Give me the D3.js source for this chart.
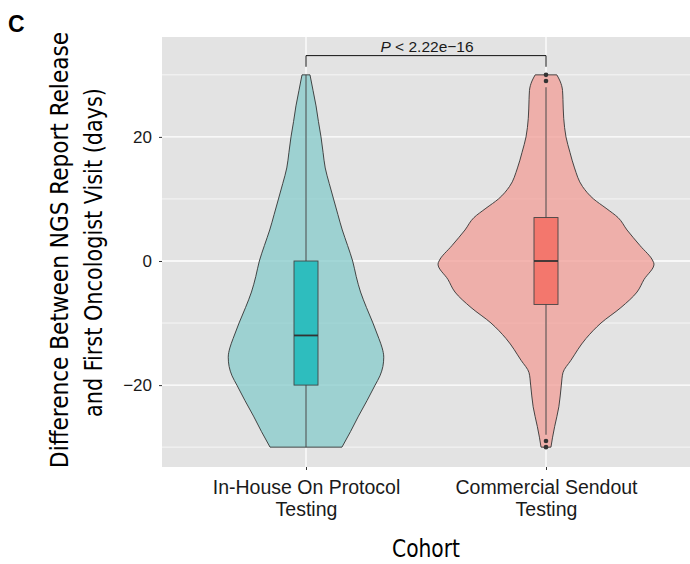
<!DOCTYPE html>
<html>
<head>
<meta charset="utf-8">
<script src="https://cdn.jsdelivr.net/npm/d3@7"></script>
<style>
  body { margin: 0; background: #fff; }
  svg { display: block; }
  .tick-txt { font-family: "Liberation Sans", Arial, sans-serif; fill: #1a1a1a; }
  .narrow { font-family: "DejaVu Sans Condensed", "DejaVu Sans", sans-serif; font-stretch: condensed; fill: #000; }
</style>
</head>
<body>
<div id="chart"></div>
<script>
// categories and labels
var cohorts = ['In-House On Protocol\nTesting', 'Commercial Sendout\nTesting'];
var yTicks = [-20, 0, 20];
var yMinor = [-30, -10, 10, 30];

// violin outlines: value (days) and relative density
var densInHouse = [
  [30, 0.037], [27.5, 0.065], [25, 0.093], [22.5, 0.115], [20, 0.139], [17.5, 0.158], [15, 0.178],
  [12.5, 0.215], [10, 0.255], [7.5, 0.295], [5, 0.336], [2.5, 0.385], [0, 0.432], [-2.5, 0.465],
  [-5, 0.505], [-7.5, 0.56], [-10, 0.62], [-12.5, 0.675], [-14, 0.705], [-15.5, 0.72],
  [-17, 0.712], [-18.5, 0.685], [-20, 0.64], [-22.5, 0.565], [-25, 0.486], [-27.5, 0.412], [-30, 0.333]
];
var densSendout = [
  [30, 0.10], [29, 0.13], [27.5, 0.153], [26, 0.157], [23, 0.164], [20, 0.185], [17.5, 0.222],
  [15, 0.264], [12, 0.338], [10, 0.44], [8.5, 0.556], [7, 0.667], [5, 0.75], [2.5, 0.87],
  [0, 0.99], [-0.5, 1.0], [-3, 0.907], [-5, 0.843], [-7.5, 0.694], [-10, 0.509], [-12.5, 0.37],
  [-16, 0.231], [-18, 0.157], [-20, 0.142], [-23.5, 0.119], [-26.7, 0.08], [-28.5, 0.06], [-30, 0.046]
];

// box stats: lower whisker, q1, median, q3, upper whisker
var boxInHouse = [-30, -20, -12, 0, 30];
var boxSendout = [-28, -7, 0, 7, 28];
var outliersInHouse = [];
var outliersSendout = [30, 29, -29, -30];

var pLabel = 'P';
var pText = ' < 2.22e\u221216';
var bracketY = 33.1, bracketTip = 31.3;

var yTitle = ['Difference Between NGS Report Release', 'and First Oncologist Visit (days)'];
var xTitle = 'Cohort';

var W = 690, H = 564;
var panel = { left: 162, right: 690, top: 37, bottom: 467 };

var svg = d3.select('#chart').append('svg').attr('width', W).attr('height', H);

var x = d3.scalePoint().domain(cohorts).range([panel.left, panel.right]).padding(0.6);
var y = d3.scaleLinear().domain([-33.2, 36.1]).range([panel.bottom, panel.top]);
var step = x.step();
var wScale = d3.scaleLinear().domain([0, 1]).range([0, step * 0.45]);

// panel background + grid
svg.append('rect').attr('x', panel.left).attr('y', panel.top)
  .attr('width', panel.right - panel.left).attr('height', panel.bottom - panel.top)
  .attr('fill', '#e3e3e3');

svg.selectAll('.gminor').data(yMinor).enter().append('line')
  .attr('x1', panel.left).attr('x2', panel.right)
  .attr('y1', function (d) { return y(d); }).attr('y2', function (d) { return y(d); })
  .attr('stroke', '#fff').attr('stroke-width', 0.7);
svg.selectAll('.gmajor').data(yTicks).enter().append('line')
  .attr('x1', panel.left).attr('x2', panel.right)
  .attr('y1', function (d) { return y(d); }).attr('y2', function (d) { return y(d); })
  .attr('stroke', '#fff').attr('stroke-width', 1.3);
svg.selectAll('.gx').data(cohorts).enter().append('line')
  .attr('y1', panel.top).attr('y2', panel.bottom)
  .attr('x1', function (d) { return x(d); }).attr('x2', function (d) { return x(d); })
  .attr('stroke', '#fff').attr('stroke-width', 1.3);

// violins
var groups = [
  { cat: cohorts[0], dens: densInHouse, box: boxInHouse, out: outliersInHouse, vfill: '#86cbcb', bfill: '#2ebdbe' },
  { cat: cohorts[1], dens: densSendout, box: boxSendout, out: outliersSendout, vfill: '#f29e97', bfill: '#f3776d' }
];

groups.forEach(function (g) {
  var cx = x(g.cat);
  var area = d3.area()
    .y(function (d) { return y(d[0]); })
    .x0(function (d) { return cx - wScale(d[1]); })
    .x1(function (d) { return cx + wScale(d[1]); })
    .curve(d3.curveMonotoneY);
  svg.append('path').datum(g.dens).attr('d', area)
    .attr('fill', g.vfill).attr('fill-opacity', 0.75)
    .attr('stroke', '#333').attr('stroke-width', 0.9);

  var bw = step * 0.1;
  // whiskers
  svg.append('line').attr('x1', cx).attr('x2', cx)
    .attr('y1', y(g.box[0])).attr('y2', y(g.box[4]))
    .attr('stroke', '#444').attr('stroke-width', 1);
  svg.append('rect').attr('x', cx - bw / 2).attr('width', bw)
    .attr('y', y(g.box[3])).attr('height', y(g.box[1]) - y(g.box[3]))
    .attr('fill', g.bfill).attr('stroke', '#444').attr('stroke-width', 0.9);
  svg.append('line').attr('x1', cx - bw / 2).attr('x2', cx + bw / 2)
    .attr('y1', y(g.box[2])).attr('y2', y(g.box[2]))
    .attr('stroke', '#333').attr('stroke-width', 1.8);
  svg.selectAll(null).data(g.out).enter().append('circle')
    .attr('cx', cx).attr('cy', function (d) { return y(d); }).attr('r', 2.3)
    .attr('fill', '#333');
});

// significance bracket
var bx0 = x(cohorts[0]), bx1 = x(cohorts[1]);
svg.append('path')
  .attr('d', 'M' + bx0 + ',' + y(bracketTip) + 'V' + y(bracketY) + 'H' + bx1 + 'V' + y(bracketTip))
  .attr('fill', 'none').attr('stroke', '#111').attr('stroke-width', 1);
var pt = svg.append('text').attr('class', 'tick-txt')
  .attr('x', (bx0 + bx1) / 2 + 1).attr('y', y(bracketY) - 4)
  .attr('text-anchor', 'middle').style('font-size', '15.5px');
pt.append('tspan').style('font-style', 'italic').text(pLabel);
pt.append('tspan').text(pText);

// y axis
var yAxis = svg.append('g').attr('transform', 'translate(' + panel.left + ',0)')
  .call(d3.axisLeft(y).tickValues(yTicks).tickSize(3).tickPadding(7)
    .tickFormat(function (d) { return d < 0 ? '\u2212' + Math.abs(d) : d; }));
yAxis.select('.domain').remove();
yAxis.selectAll('line').attr('stroke', '#333');
yAxis.selectAll('text').attr('class', 'tick-txt').attr('fill', null).style('font-size', '17px');

// x axis
var xAxis = svg.append('g').attr('transform', 'translate(0,' + panel.bottom + ')')
  .call(d3.axisBottom(x).tickSize(3).tickFormat(''));
xAxis.select('.domain').remove();
xAxis.selectAll('line').attr('stroke', '#333');
xAxis.selectAll('.tick').each(function (d) {
  var t = d3.select(this).append('text').attr('class', 'tick-txt')
    .attr('text-anchor', 'middle').style('font-size', '19.5px');
  d.split('\n').forEach(function (line, i) {
    t.append('tspan').attr('x', 0).attr('y', 27 + i * 22).text(line);
  });
});

// titles
svg.append('text').attr('class', 'narrow').attr('x', 426).attr('y', 557)
  .attr('text-anchor', 'middle').style('font-size', '25px')
  .attr('textLength', 68).attr('lengthAdjust', 'spacingAndGlyphs').text(xTitle);

var yt = svg.append('g').attr('transform', 'rotate(-90)');
yt.append('text').attr('class', 'narrow').attr('x', -250).attr('y', 68)
  .attr('text-anchor', 'middle').style('font-size', '25px')
  .attr('textLength', 436).attr('lengthAdjust', 'spacingAndGlyphs').text(yTitle[0]);
yt.append('text').attr('class', 'narrow').attr('x', -252.5).attr('y', 102)
  .attr('text-anchor', 'middle').style('font-size', '25px')
  .attr('textLength', 329).attr('lengthAdjust', 'spacingAndGlyphs').text(yTitle[1]);

svg.append('text').attr('x', 8).attr('y', 32)
  .style('font-family', '"Liberation Sans", Arial, sans-serif').style('font-weight', 'bold')
  .style('font-size', '23px').text('C');
</script>
</body>
</html>
